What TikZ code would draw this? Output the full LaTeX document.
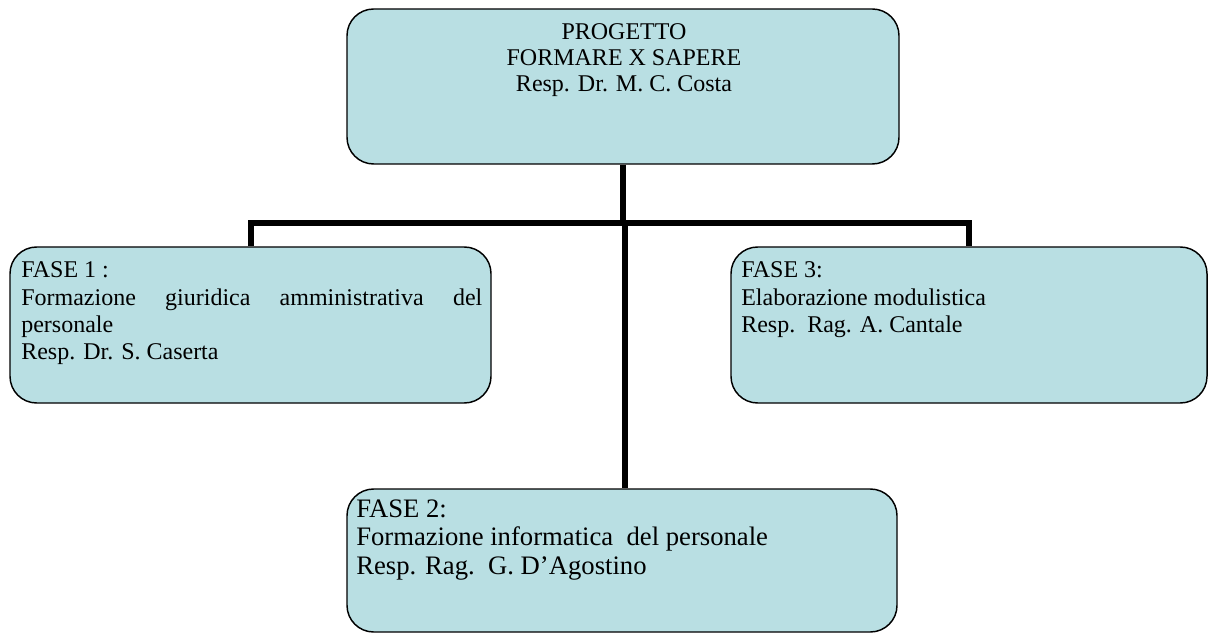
\documentclass[tikz,border=0pt]{standalone}
\usepackage{fontspec}
\setmainfont{Liberation Serif}
\usetikzlibrary{fit,backgrounds}
\definecolor{boxfill}{RGB}{185,223,227}
\begin{document}
\begin{tikzpicture}[x=0.75pt,y=-0.75pt,
  box/.style={draw=black, line width=1.1pt, fill=boxfill, rounded corners=20pt, inner sep=0pt},
  conn/.style={draw=black, line width=4.5pt, line join=miter},
  txt/.style={inner sep=0pt, anchor=base west},
  wide/.style={font=\fontsize{18}{20.5}\selectfont},
  tight/.style={font=\fontsize{18}{19.5}\selectfont},
  big/.style={font=\fontsize{20}{21.5}\selectfont}]
\useasboundingbox (0,0) rectangle (1209,641);
% boxes
\node[box, fit={(347,9) (899,164)}] (top) {};
\node[box, fit={(10,247) (491,403)}] (f1) {};
\node[box, fit={(731,247) (1207,403)}] (f3) {};
\node[box, fit={(347,489) (897,632)}] (f2) {};
% texts
\node[txt, tight, anchor=base] (ttop) at (624,40)
  {\parbox[t]{400pt}{\centering PROGETTO\\FORMARE X SAPERE\\Resp. Dr. M. C. Costa}};
\node[txt, wide] (tf1) at (21,278)
  {\parbox[t]{345.75pt}{FASE 1 :\\\makebox[\linewidth][s]{Formazione giuridica amministrativa del}\\personale\\Resp. Dr. S. Caserta}};
\node[txt, wide] (tf3) at (741,278)
  {\parbox[t]{340pt}{FASE 3:\\Elaborazione modulistica\\Resp.~\ Rag. A. Cantale}};
\node[txt, big] (tf2) at (356,517)
  {\parbox[t]{400pt}{FASE 2:\\Formazione informatica~\ del personale\\Resp. Rag.~\ G. D’Agostino}};
% connectors
\coordinate (bus) at (623,223.5);
\coordinate (stem) at (625,223.5);
\begin{scope}[on background layer]
\draw[conn] (top.south) -- (top.south |- bus);
\draw[conn] (f1.north) -- (f1.north |- bus) -- (f3.north |- bus) -- (f3.north);
\draw[conn] (stem) -- (stem |- f2.north);
\end{scope}
\end{tikzpicture}
\end{document}
